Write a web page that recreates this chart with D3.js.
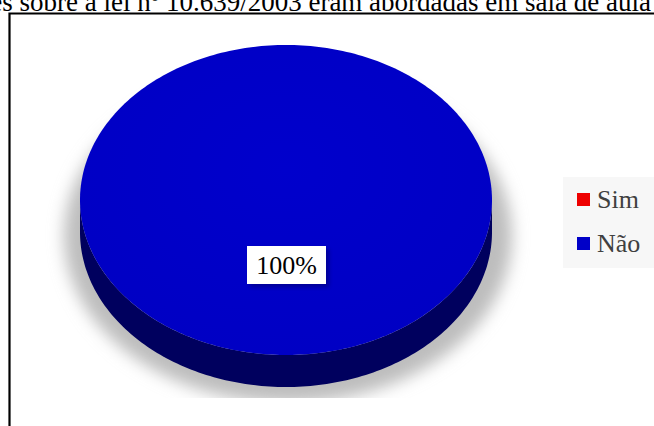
<!DOCTYPE html>
<html>
<head>
<meta charset="utf-8">
<script src="https://cdn.jsdelivr.net/npm/d3@7"></script>
<style>
  html, body { margin: 0; padding: 0; background: #fff; }
  svg { display: block; }
</style>
</head>
<body>
<svg id="chart" width="654" height="426"></svg>
<script>
// Answers to the survey question
const categories = ["Sim", "Não"];
const values = [0, 100];
const colors = ["#ee0000", "#0000c8"];
const sideColors = ["#660000", "#00005e"];
const titleText = "es sobre a lei nº 10.639/2003 eram abordadas em sala de aula";

const W = 654, H = 426;
const svg = d3.select("#chart");
const defs = svg.append("defs");

// Title (its start runs past the left edge of the page)
svg.append("text")
  .attr("x", 651).attr("y", 11)
  .attr("text-anchor", "end")
  .attr("font-family", "Liberation Serif, Times New Roman, serif")
  .attr("font-size", 27)
  .attr("fill", "#000")
  .text(titleText);

// Chart frame
svg.append("path")
  .attr("d", "M9.5,426 V13.5 H654")
  .attr("fill", "none").attr("stroke", "#000").attr("stroke-width", 2.2);

// Pie geometry
const cx = 286, cy = 200, rx = 206, ry = 155, depth = 32;

const blur = defs.append("filter").attr("id", "soft")
  .attr("x", "-20%").attr("y", "-20%").attr("width", "140%").attr("height", "140%");
blur.append("feGaussianBlur").attr("stdDeviation", 8);

defs.append("clipPath").attr("id", "plotClip")
  .append("rect").attr("x", 11).attr("y", 15).attr("width", 540).attr("height", 383);

const topGrad = defs.append("radialGradient").attr("id", "topGrad")
  .attr("cx", "50%").attr("cy", "40%").attr("r", "60%");
topGrad.append("stop").attr("offset", "0%").attr("stop-color", "#0000cc");
topGrad.append("stop").attr("offset", "100%").attr("stop-color", "#0000c4");

// Drop shadow under the pie
svg.append("g").attr("clip-path", "url(#plotClip)")
  .append("ellipse")
  .attr("cx", cx + 2).attr("cy", cy + 36)
  .attr("rx", rx + 18).attr("ry", ry + 12)
  .attr("fill", "#bdbdbd")
  .attr("filter", "url(#soft)");

const pie = d3.pie().sort(null).value(d => d)(values);

const pt = (a, dy = 0) => [cx + rx * Math.sin(a), cy - ry * Math.cos(a) + dy];

function arcPoints(a0, a1, dy) {
  const n = Math.max(2, Math.ceil((a1 - a0) / 0.02));
  return d3.range(n + 1).map(i => pt(a0 + (a1 - a0) * i / n, dy));
}

const line = d3.line();
const g = svg.append("g");

// Side walls (front half only)
pie.forEach((d, i) => {
  if (d.endAngle - d.startAngle <= 0) return;
  const a0 = Math.max(d.startAngle, Math.PI / 2);
  const a1 = Math.min(d.endAngle, 3 * Math.PI / 2);
  if (a1 <= a0) return;
  const topEdge = arcPoints(a0, a1, 0);
  const bottomEdge = arcPoints(a0, a1, depth).reverse();
  g.append("path")
    .attr("d", line(topEdge.concat(bottomEdge)) + "Z")
    .attr("fill", sideColors[i]);
});

// Top faces
pie.forEach((d, i) => {
  if (d.endAngle - d.startAngle <= 0) return;
  const pts = arcPoints(d.startAngle, d.endAngle, 0);
  const full = d.endAngle - d.startAngle >= 2 * Math.PI - 1e-6;
  g.append("path")
    .attr("d", full ? line(pts) + "Z" : line([[cx, cy]].concat(pts)) + "Z")
    .attr("fill", i === 1 ? "url(#topGrad)" : colors[i]);
});

const ls = defs.append("filter").attr("id", "lblShadow")
  .attr("x", "-20%").attr("y", "-40%").attr("width", "140%").attr("height", "180%");
ls.append("feGaussianBlur").attr("stdDeviation", 2);

// Value labels
const total = d3.sum(values);
pie.forEach((d, i) => {
  if (d.value <= 0) return;
  const mid = (d.startAngle + d.endAngle) / 2;
  const full = d.endAngle - d.startAngle >= 2 * Math.PI - 1e-6;
  const [lx, ly] = full ? [cx, cy + 65] : pt(mid).map((v, k) => k ? cy + (v - cy) * 0.6 : cx + (v - cx) * 0.6);
  const label = Math.round(d.value / total * 100) + "%";
  const lg = svg.append("g");
  lg.append("rect")
    .attr("x", lx - 39 + 3).attr("y", ly - 19 + 3).attr("width", 79).attr("height", 38)
    .attr("fill", "#000").attr("opacity", 0.25).attr("filter", "url(#lblShadow)");
  lg.append("rect")
    .attr("x", lx - 39).attr("y", ly - 19).attr("width", 79).attr("height", 38)
    .attr("fill", "#fff");
  lg.append("text")
    .attr("x", lx + 0.5).attr("y", ly + 9)
    .attr("text-anchor", "middle")
    .attr("font-family", "Liberation Serif, Times New Roman, serif")
    .attr("font-size", 26)
    .attr("fill", "#000")
    .text(label);
});

// Legend
const legend = svg.append("g");
legend.append("rect")
  .attr("x", 563).attr("y", 177).attr("width", 91).attr("height", 91)
  .attr("fill", "#f7f7f7");
const ly0 = 199.5, lstep = 44;
categories.forEach((c, i) => {
  legend.append("rect")
    .attr("x", 577).attr("y", ly0 + i * lstep - 6.5)
    .attr("width", 13).attr("height", 13)
    .attr("fill", colors[i]);
  legend.append("text")
    .attr("x", 597).attr("y", ly0 + i * lstep + 8.5)
    .attr("font-family", "Liberation Serif, Times New Roman, serif")
    .attr("font-size", 26)
    .attr("fill", "#404040")
    .text(c);
});
</script>
</body>
</html>
